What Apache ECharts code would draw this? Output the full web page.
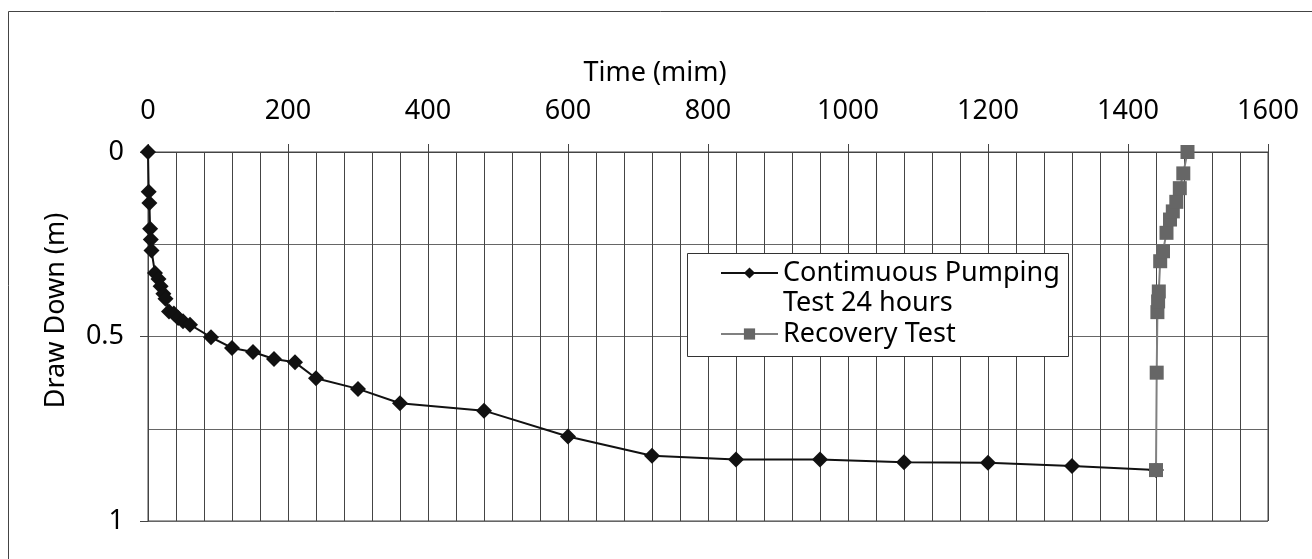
<!DOCTYPE html>
<html>
<head>
<meta charset="utf-8">
<script src="https://cdn.jsdelivr.net/npm/echarts@6/dist/echarts.min.js"></script>
<style>
  html, body { margin: 0; padding: 0; background: #fff; }
  #chart { width: 1312px; height: 559px; }
</style>
</head>
<body>
<div id="chart"></div>
<script>
// ---- data ----
const pumpingName = 'Contimuous Pumping\nTest 24 hours';
const recoveryName = 'Recovery Test';
const pumpingTime = [0, 1, 2, 3, 4, 5, 10, 15, 18, 22, 25, 30, 37, 43, 50, 60, 90, 120, 150, 180, 210, 240, 300, 360, 480, 600, 720, 840, 960, 1080, 1200, 1320, 1440];
const pumpingDraw = [0, 0.108, 0.138, 0.208, 0.237, 0.267, 0.328, 0.344, 0.364, 0.384, 0.398, 0.432, 0.438, 0.450, 0.459, 0.468, 0.502, 0.531, 0.542, 0.561, 0.570, 0.613, 0.642, 0.681, 0.701, 0.771, 0.823, 0.833, 0.833, 0.841, 0.842, 0.851, 0.862];
const recoveryTime = [1440, 1441, 1442, 1443, 1444, 1446, 1450, 1455, 1460, 1464, 1469, 1474, 1479, 1485];
const recoveryDraw = [0.862, 0.598, 0.434, 0.405, 0.378, 0.296, 0.269, 0.219, 0.183, 0.161, 0.135, 0.098, 0.058, 0];
const xTickLabels = ['0', '200', '400', '600', '800', '1000', '1200', '1400', '1600'];
const yTickLabels = ['0', '0.5', '1'];

const FONT = 'Noto Sans';
const chart = echarts.init(document.getElementById('chart'), null, { renderer: 'canvas' });

const option = {
  backgroundColor: '#ffffff',
  animation: false,
  textStyle: { fontFamily: FONT },
  grid: {
    left: 148, right: 44, top: 152, height: 369,
    show: true, borderColor: '#444', borderWidth: 1, backgroundColor: 'transparent'
  },
  xAxis: {
    type: 'value', position: 'top', min: 0, max: 1600, interval: 200,
    name: 'Time (mim)', nameLocation: 'middle', nameGap: 65,
    nameTextStyle: { fontSize: 27, color: '#000', fontFamily: FONT, padding: [0, 106, 0, 0] },
    axisLine: { show: true, lineStyle: { color: '#444', width: 1 } },
    axisTick: { show: true, inside: false, length: 8, lineStyle: { color: '#444' } },
    axisLabel: {
      fontSize: 27, color: '#000', margin: 27, fontFamily: FONT,
      formatter: (v) => xTickLabels[Math.round(v / 200)]
    },
    splitLine: { show: true, lineStyle: { color: '#444', width: 1 } },
    minorTick: { show: false, splitNumber: 5 },
    minorSplitLine: { show: true, lineStyle: { color: '#444', width: 1 } }
  },
  yAxis: {
    type: 'value', inverse: true, min: 0, max: 1, interval: 0.5,
    name: 'Draw Down (m)', nameLocation: 'middle', nameGap: 78, nameRotate: 90,
    nameTextStyle: { fontSize: 27, color: '#000', fontFamily: FONT, padding: [0, 0, 0, 52] },
    axisLine: { show: true, lineStyle: { color: '#444', width: 1 } },
    axisTick: { show: true, inside: false, length: 8, lineStyle: { color: '#444' } },
    axisLabel: {
      fontSize: 27, color: '#000', margin: 24, fontFamily: FONT,
      formatter: (v) => yTickLabels[Math.round(v / 0.5)]
    },
    splitLine: { show: true, lineStyle: { color: '#666', width: 1 } },
    minorTick: { show: false, splitNumber: 2 },
    minorSplitLine: { show: true, lineStyle: { color: '#666', width: 1 } }
  },
  legend: {
    orient: 'vertical', left: 720, top: 228, padding: 0,
    itemWidth: 57, itemHeight: 14, itemGap: 1, selectedMode: false,
    textStyle: { fontSize: 27, lineHeight: 30, color: '#000', fontFamily: FONT },
    formatter: (name) => (name === pumpingName ? '\n' + name : name),
    data: [pumpingName, recoveryName]
  },
  graphic: [
    { type: 'rect', z: 0, silent: true, shape: { x: 8.5, y: 11.5, width: 1320, height: 600 },
      style: { fill: 'none', stroke: '#444', lineWidth: 1 } },
    { type: 'rect', z: 3, silent: true, shape: { x: 687.5, y: 253.5, width: 381, height: 103 },
      style: { fill: '#fff', stroke: '#333', lineWidth: 1 } }
  ],
  series: [
    {
      name: pumpingName, type: 'line', z: 5,
      data: pumpingTime.map((t, i) => [t, pumpingDraw[i]]),
      symbol: 'diamond', symbolSize: 16,
      lineStyle: { color: '#111', width: 2 },
      itemStyle: { color: '#111' }
    },
    {
      name: recoveryName, type: 'line', z: 6,
      data: recoveryTime.map((t, i) => [t, recoveryDraw[i]]),
      symbol: 'rect', symbolSize: 14,
      lineStyle: { color: '#808080', width: 2 },
      itemStyle: { color: '#666' }
    }
  ]
};
chart.setOption(option);
</script>
</body>
</html>
